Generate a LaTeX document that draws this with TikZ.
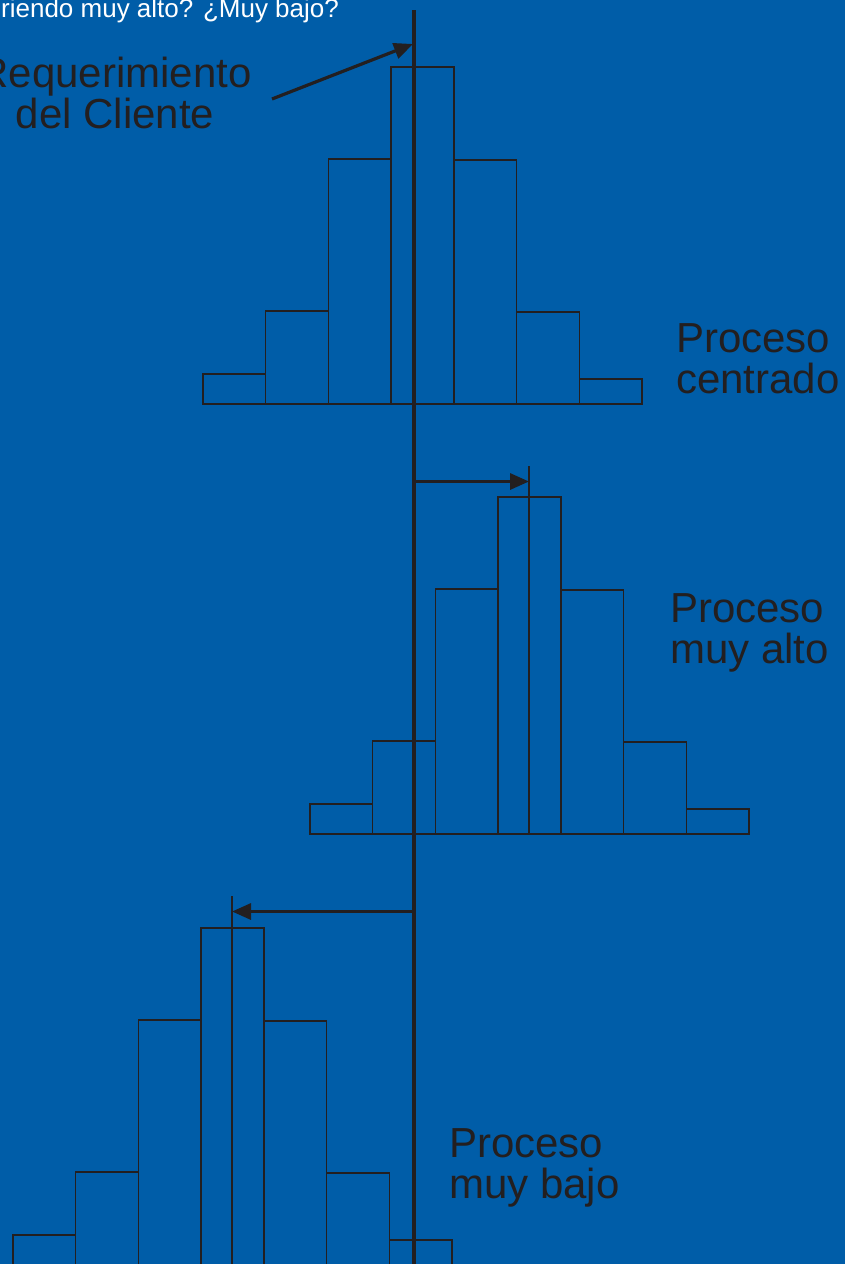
\documentclass[tikz,border=0pt]{standalone}
\usepackage{fontspec}
\setmainfont{Liberation Sans}
\usetikzlibrary{arrows.meta}
\definecolor{bg}{RGB}{0,93,168}
\definecolor{ink}{RGB}{35,31,32}
\newcommand\myhisto{%
  \foreach \l/\r/\t in {203/265.7/374,265.7/328.4/311,328.4/391.1/159,391.1/453.8/67,453.8/516.5/160,516.5/579.2/312,579.2/642/379}
    {\draw[bar] (\l,404) rectangle (\r,\t);}}
\begin{document}
\begin{tikzpicture}[x=1pt,y=-1pt,
  bar/.style={draw=ink,line width=1.4pt},
  axisline/.style={draw=ink,line width=3.3pt},
  meanline/.style={draw=ink,line width=2.8pt},
  shiftarrow/.style={draw=ink,line width=3.2pt,-{Triangle[length=19pt,width=16pt]}},
  big/.style={font=\fontsize{42}{41}\selectfont,text=ink,inner sep=0pt},
  small/.style={font=\fontsize{26}{26}\selectfont,text=white,inner sep=0pt}]
\fill[bg] (0,0) rectangle (845,1264);
\useasboundingbox (0,0) rectangle (845,1264);
% histograms
\myhisto
\begin{scope}[shift={(107,430)}]\myhisto\end{scope}
\begin{scope}[shift={(-190,861)}]\myhisto\end{scope}
% main requirement line
\coordinate (top) at (414,10);
\coordinate (bottom) at (414,1270);
\draw[axisline] (top) -- (bottom);
% mean lines
\coordinate (m2top) at (529,466);
\coordinate (m2bot) at (529,834);
\draw[meanline] (m2top) -- (m2bot);
\coordinate (m3top) at (232,896);
\coordinate (m3bot) at (232,1270);
\draw[meanline] (m3top) -- (m3bot);
% shift arrows
\coordinate (a2) at (414,481.5);
\coordinate (t2) at (529,481.5);
\draw[shiftarrow] (a2) -- (t2);
\coordinate (a3) at (414,911.5);
\coordinate (t3) at (232,911.5);
\draw[shiftarrow] (a3) -- (t3);
% labels (base anchor = baseline of last line)
\node[small,anchor=base west] (q) at (1,17.5) {riendo muy alto? ¿Muy bajo?};
\node[big,align=center,anchor=base] (req) at (115,128) {Requerimiento\\del Cliente};
\coordinate (reqtail) at (272,99);
\coordinate (reqtip) at (413,44);
\draw[shiftarrow] (reqtail) -- (reqtip);
\node[big,align=left,anchor=base west] (pc) at (676,393) {Proceso\\centrado};
\node[big,align=left,anchor=base west] (pa) at (670,663) {Proceso\\muy alto};
\node[big,align=left,anchor=base west] (pb) at (449,1198.5) {Proceso\\muy bajo};
\end{tikzpicture}
\end{document}
